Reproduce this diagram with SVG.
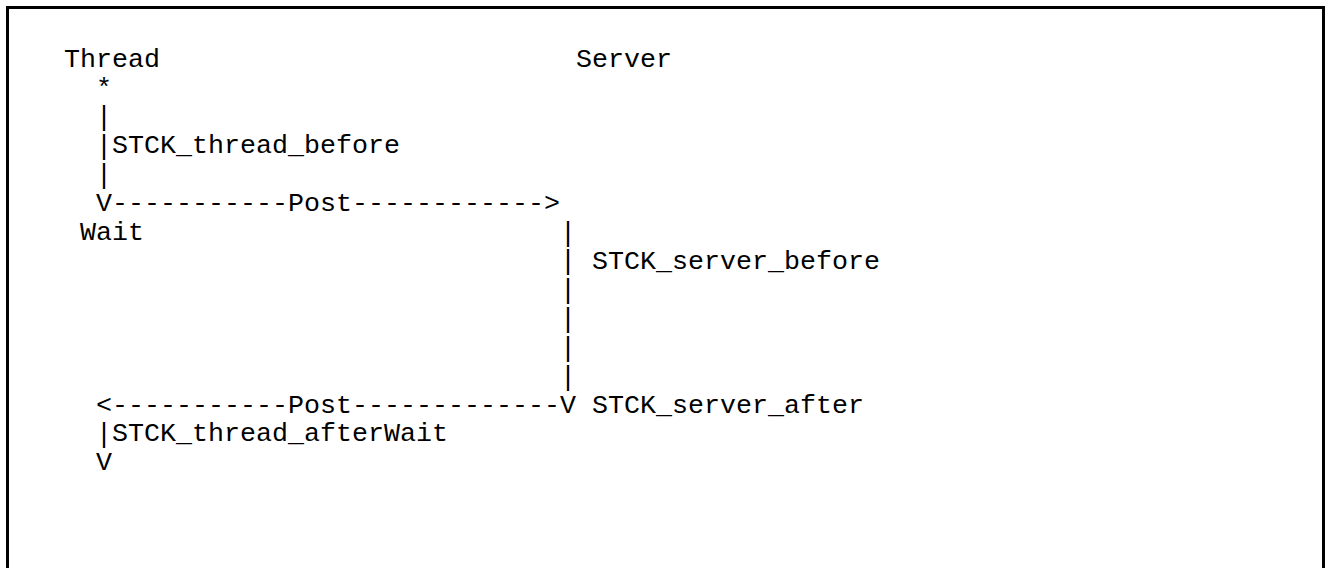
<svg xmlns="http://www.w3.org/2000/svg" width="1325" height="568" viewBox="0 0 1325 568">
  <style>
    .t { font-family: "Liberation Mono", "Courier New", monospace; font-size: 26.667px; fill: #000; white-space: pre; }
  </style>
  <rect x="0" y="0" width="1325" height="568" fill="#fff"/>
  <!-- frame, open at the bottom -->
  <rect x="7.5" y="7.5" width="1316" height="620" fill="none" stroke="#000" stroke-width="3"/>

  <!-- grid: column width 16px starting at x=64, line pitch 28.8px starting at y=67 -->
  <g id="thread">
    <text class="t" x="64" y="67">Thread</text>
    <text class="t" x="96" y="95.8">*</text>
    <text class="t" x="80" y="239.8">Wait</text>
  </g>
  <g id="server">
    <text class="t" x="576" y="67">Server</text>
  </g>
  <g id="labels">
    <text class="t" x="112" y="153.4">STCK_thread_before</text>
    <text class="t" x="592" y="268.6">STCK_server_before</text>
    <text class="t" x="592" y="412.6">STCK_server_after</text>
    <text class="t" x="112" y="441.4">STCK_thread_afterWait</text>
  </g>

  <g id="connectors">
    <!-- thread lifeline before the post (bars stretched slightly, small gaps kept) -->
    <text class="t" x="96" y="124.6" transform="translate(0 112.6) scale(1 1.06) translate(0 -112.6)">|</text>
    <text class="t" x="96" y="153.4" transform="translate(0 141.4) scale(1 1.06) translate(0 -141.4)">|</text>
    <text class="t" x="96" y="182.2" transform="translate(0 170.2) scale(1 1.06) translate(0 -170.2)">|</text>
    <!-- post to server -->
    <text class="t" x="96" y="211">V-----------Post------------></text>
    <!-- server lifeline -->
    <text class="t" x="560" y="239.8" transform="translate(0 227.8) scale(1 1.06) translate(0 -227.8)">|</text>
    <text class="t" x="560" y="268.6" transform="translate(0 256.6) scale(1 1.06) translate(0 -256.6)">|</text>
    <text class="t" x="560" y="297.4" transform="translate(0 285.4) scale(1 1.06) translate(0 -285.4)">|</text>
    <text class="t" x="560" y="326.2" transform="translate(0 314.2) scale(1 1.06) translate(0 -314.2)">|</text>
    <text class="t" x="560" y="355" transform="translate(0 343) scale(1 1.06) translate(0 -343)">|</text>
    <text class="t" x="560" y="383.8" transform="translate(0 371.8) scale(1 1.06) translate(0 -371.8)">|</text>
    <!-- post back to thread -->
    <text class="t" x="96" y="412.6">&lt;-----------Post-------------V</text>
    <!-- thread lifeline after the wait -->
    <text class="t" x="96" y="441.4" transform="translate(0 429.4) scale(1 1.06) translate(0 -429.4)">|</text>
    <text class="t" x="96" y="470.2">V</text>
  </g>
</svg>
